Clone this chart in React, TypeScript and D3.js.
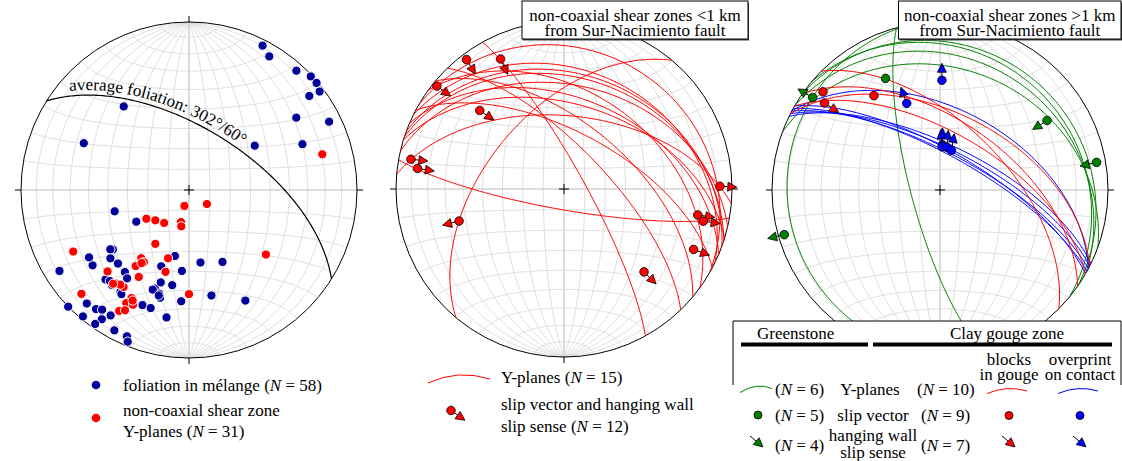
import * as d3 from 'd3'

const FONT = 'Liberation Serif'
const FS = 17
const rad = Math.PI / 180
const R = 168
const GRID = '#dadada'
const NAVY = '#000099'
const RED = '#ff0000'
const GREEN = '#008000'
const BLUE = '#0000ff'

// left net: poles to planes, [trend, plunge]
const foliationPoles: [number, number][] = [
  [27, 4], [31, 8], [42, 5], [47, 1], [50, 1], [53, 3], [52, 10], [56, 24], [64, 8], [68, 28],
  [56, 51], [322, 37], [294, 32], [254, 52], [239, 60], [232, 42], [229, 38], [224, 39], [232, 28],
  [238, 10], [218, 38], [215, 36], [223, 28], [219, 28], [214, 28], [226, 0], [222, 10], [218, 11],
  [216, 13], [220, 2], [214, 8], [212, 13], [215, 3], [208, 6], [203, 6], [202, 3], [202, 27],
  [198, 27], [190, 24], [199, 38], [196, 36], [195, 34], [197, 42], [190, 42], [200, 50], [192, 57],
  [185, 50], [184, 34], [171, 54], [155, 51], [168, 36], [153, 27], [221, 29], [200, 37], [213, 27],
  [233, 41], [196, 35], [236, 29],
]
const shearZonePoles: [number, number][] = [
  [75, 19], [196, 82], [128, 79], [236, 65], [228, 68], [217, 70], [194, 74], [192, 72], [212, 59],
  [242, 23], [215, 49], [212, 48], [215, 44], [197, 55], [196, 48], [210, 40], [225, 32], [218, 30],
  [214, 31], [226, 12], [208, 28], [209, 24], [206, 25], [210, 18], [208, 20], [180, 38], [130, 40],
  [216, 31], [207, 27], [213, 47], [219, 29],
]
const averageFoliation: [number, number] = [302, 60]

// middle net: Y-planes [strike, dip] (right-hand rule); slip [trend, plunge, sense azimuth]
const yPlanesNear: [number, number][] = [
  [100, 80], [220, 52], [331, 80], [316, 70], [275, 54], [283, 38], [288, 34], [290, 32],
  [296, 30], [300, 18], [306, 42], [293, 45], [310, 58], [298, 62], [287, 48],
]
const slipNear: [number, number, number][] = [
  [323, 4, 148], [334, 15, 155], [309, 3, 126], [313, 32, 124], [281, 8, 96], [278, 13, 99],
  [253, 35, 256], [89, 8, 93], [101, 20, 98], [103, 16, 98], [115, 16, 110], [136, 32, 135],
]

// right net
const greenPlanes: [number, number][] = [[165, 76], [170, 10], [310, 18], [300, 22], [305, 15], [290, 28]]
const redPlanes: [number, number][] = [[315, 58], [305, 56], [300, 62], [297, 52]]
const bluePlanes: [number, number][] = [[298, 50], [297, 70], [298, 72], [299, 73], [300, 71], [296, 68]]
const greenSlip: [number, number, number | null][] = [
  [334, 27, null], [306, 7, 300], [254, 4, 257], [57, 25, 238], [80, 6, 257],
]
const redSlip: [number, number, number | null][] = [[310, 10, null], [307, 15, 124], [325, 32, null]]
const blueSlip: [number, number, number | null][] = [
  [339, 44, 340], [1, 35, 0], [3, 68, 0], [3, 69, 355], [9, 69, 5], [16, 70, 10],
]

const titles = [
  ['non-coaxial shear zones <1 km', 'from Sur-Nacimiento fault'],
  ['non-coaxial shear zones >1 km', 'from Sur-Nacimiento fault'],
]
const countsGreen = [6, 5, 4]
const countsClay = [10, 9, 7]

type Pt = [number, number]

function toLonLat(e: number, n: number, d: number): Pt {
  const lat = Math.asin(Math.max(-1, Math.min(1, n))) / rad
  const lon = Math.atan2(e, d) / rad
  return [lon, lat]
}
function lineLL(trend: number, plunge: number): Pt {
  const cp = Math.cos(plunge * rad)
  return toLonLat(cp * Math.sin(trend * rad), cp * Math.cos(trend * rad), Math.sin(plunge * rad))
}
function planeLL(strike: number, dip: number): Pt[] {
  const s = strike * rad
  const dd = (strike + 90) * rad
  const dp = dip * rad
  const S = [Math.sin(s), Math.cos(s), 0]
  const D = [Math.cos(dp) * Math.sin(dd), Math.cos(dp) * Math.cos(dd), Math.sin(dp)]
  return d3.range(0, 180.01, 1).map((a) => {
    const c = Math.cos(a * rad)
    const si = Math.sin(a * rad)
    return toLonLat(c * S[0] + si * D[0], c * S[1] + si * D[1], c * S[2] + si * D[2])
  })
}

const lineGen = d3.line<Pt>()
const makeProj = (cx: number, cy: number) =>
  d3.geoAzimuthalEqualArea().rotate([0, 0]).scale(R / Math.SQRT2).translate([cx, cy])
type Proj = ReturnType<typeof makeProj>
const pathOf = (proj: Proj, pts: Pt[]) => lineGen(pts.map((p) => proj(p) as Pt)) ?? ''

function NetFrame({ proj, cx, cy }: { proj: Proj; cx: number; cy: number }) {
  const steps = d3.range(-80, 81, 10)
  const fine = d3.range(-90, 90.01, 1)
  return (
    <g>
      <circle cx={cx} cy={cy} r={R} fill="#fff" />
      {steps.map((m) => (
        <path key={'m' + m} d={pathOf(proj, fine.map((l) => [m, l] as Pt))} fill="none"
          stroke={m === 0 ? '#d2d2d2' : GRID} strokeWidth={m === 0 ? 1.6 : 0.9} />
      ))}
      {steps.map((l) => (
        <path key={'p' + l} d={pathOf(proj, fine.map((m) => [m, l] as Pt))} fill="none"
          stroke={l === 0 ? '#d2d2d2' : GRID} strokeWidth={l === 0 ? 1.6 : 0.9} />
      ))}
      <circle cx={cx} cy={cy} r={R} fill="none" stroke="#000" strokeWidth={1} />
      <line x1={cx} x2={cx} y1={cy - R} y2={cy - R - 6} stroke="#000" />
      <line x1={cx} x2={cx} y1={cy + R} y2={cy + R + 6} stroke="#000" />
      <line x1={cx - R} x2={cx - R - 6} y1={cy} y2={cy} stroke="#000" />
      <line x1={cx + R} x2={cx + R + 6} y1={cy} y2={cy} stroke="#000" />
      <line x1={cx - 5} x2={cx + 5} y1={cy} y2={cy} stroke="#000" />
      <line x1={cx} x2={cx} y1={cy - 5} y2={cy + 5} stroke="#000" />
    </g>
  )
}

function Arrow({ x, y, az, color }: { x: number; y: number; az: number; color: string }) {
  const dx = Math.sin(az * rad)
  const dy = -Math.cos(az * rad)
  const bx = x + dx * 8
  const by = y + dy * 8
  const tx = x + dx * 17
  const ty = y + dy * 17
  const px = -dy * 4.5
  const py = dx * 4.5
  return (
    <g>
      <line x1={x} y1={y} x2={bx} y2={by} stroke="#000" strokeWidth={1} />
      <polygon points={`${tx},${ty} ${bx + px},${by + py} ${bx - px},${by - py}`} fill={color}
        stroke="#000" strokeWidth={0.8} strokeLinejoin="round" />
    </g>
  )
}

function Slip({ proj, d, color }: { proj: Proj; d: [number, number, number | null]; color: string }) {
  const [x, y] = proj(lineLL(d[0], d[1])) as Pt
  return (
    <g>
      {d[2] !== null && <Arrow x={x} y={y} az={d[2]} color={color} />}
      <circle cx={x} cy={y} r={4.3} fill={color} stroke="#000" strokeWidth={0.8} />
    </g>
  )
}

function TitleBox({ x, w, lines }: { x: number; w: number; lines: string[] }) {
  return (
    <g>
      <rect x={x + 1} y={2.5} width={w} height={38} fill="#444" />
      <rect x={x} y={1} width={w} height={38} fill="#fff" stroke="#000" strokeWidth={1} />
      {lines.map((t, i) => (
        <text key={i} x={x + w / 2} y={20.5 + i * 15} textAnchor="middle" fontSize={FS}>
          {t}
        </text>
      ))}
    </g>
  )
}

function NText({ x, y, pre, n }: { x: number; y: number; pre: string; n: number }) {
  return (
    <text x={x} y={y} fontSize={FS}>
      {pre}(<tspan fontStyle="italic">N</tspan> = {n})
    </text>
  )
}

export default function App() {
  const p1 = makeProj(189, 190)
  const p2 = makeProj(564, 189)
  const p3 = makeProj(940, 190)

  // label path offset above the average foliation great circle
  const avgPts = planeLL(averageFoliation[0], averageFoliation[1]).map((p) => p1(p) as Pt)
  const offPts: Pt[] = avgPts.map((p, i) => {
    const a = avgPts[Math.max(0, i - 1)]
    const b = avgPts[Math.min(avgPts.length - 1, i + 1)]
    const tx = b[0] - a[0]
    const ty = b[1] - a[1]
    const l = Math.hypot(tx, ty) || 1
    return [p[0] + (ty / l) * 5, p[1] - (tx / l) * 5]
  })

  return (
    <svg width={1122} height={461} viewBox="0 0 1122 461"
      style={{ position: 'absolute', left: 0, top: 0, background: '#fff', fontFamily: FONT }}>
      <defs>
        <path id="avgfol" d={lineGen(offPts) ?? ''} />
      </defs>

      {/* left net */}
      <NetFrame proj={p1} cx={189} cy={190} />
      <path d={pathOf(p1, planeLL(averageFoliation[0], averageFoliation[1]))} fill="none" stroke="#000" strokeWidth={1.2} />
      <text fontSize={FS}>
        <textPath href="#avgfol" startOffset={25}>average foliation: 302°/60°</textPath>
      </text>
      {foliationPoles.map((d, i) => {
        const [x, y] = p1(lineLL(d[0], d[1])) as Pt
        return <circle key={'f' + i} cx={x} cy={y} r={4.6} fill={NAVY} stroke="#fff" strokeWidth={1} />
      })}
      {shearZonePoles.map((d, i) => {
        const [x, y] = p1(lineLL(d[0], d[1])) as Pt
        return <circle key={'s' + i} cx={x} cy={y} r={4.6} fill={RED} stroke="#fff" strokeWidth={1} />
      })}

      {/* middle net */}
      <NetFrame proj={p2} cx={564} cy={189} />
      {yPlanesNear.map((pl, i) => (
        <path key={'y' + i} d={pathOf(p2, planeLL(pl[0], pl[1]))} fill="none" stroke={RED} strokeWidth={1} />
      ))}
      {slipNear.map((d, i) => <Slip key={'sn' + i} proj={p2} d={d} color={RED} />)}
      <TitleBox x={522} w={226} lines={titles[0]} />

      {/* right net */}
      <NetFrame proj={p3} cx={940} cy={190} />
      {greenPlanes.map((pl, i) => (
        <path key={'g' + i} d={pathOf(p3, planeLL(pl[0], pl[1]))} fill="none" stroke={GREEN} strokeWidth={1} />
      ))}
      {bluePlanes.map((pl, i) => (
        <path key={'b' + i} d={pathOf(p3, planeLL(pl[0], pl[1]))} fill="none" stroke={BLUE} strokeWidth={1} />
      ))}
      {redPlanes.map((pl, i) => (
        <path key={'r' + i} d={pathOf(p3, planeLL(pl[0], pl[1]))} fill="none" stroke={RED} strokeWidth={1} />
      ))}
      {greenSlip.map((d, i) => <Slip key={'gs' + i} proj={p3} d={d} color={GREEN} />)}
      {redSlip.map((d, i) => <Slip key={'rs' + i} proj={p3} d={d} color={RED} />)}
      {blueSlip.map((d, i) => <Slip key={'bs' + i} proj={p3} d={d} color={BLUE} />)}
      <TitleBox x={898.5} w={222.5} lines={titles[1]} />

      {/* left legend */}
      <circle cx={96} cy={385} r={4.3} fill={NAVY} />
      <NText x={123} y={390.5} pre="foliation in mélange " n={foliationPoles.length} />
      <circle cx={96} cy={418} r={4.3} fill={RED} />
      <text x={123} y={415.5} fontSize={FS}>non-coaxial shear zone</text>
      <NText x={123} y={437} pre="Y-planes " n={shearZonePoles.length} />

      {/* middle legend */}
      <path d="M428,383 Q458,369 490,379" fill="none" stroke={RED} strokeWidth={1} />
      <NText x={501} y={382.5} pre="Y-planes " n={yPlanesNear.length} />
      <Arrow x={451} y={410.5} az={125} color={RED} />
      <circle cx={451} cy={410.5} r={4.3} fill={RED} stroke="#000" strokeWidth={0.8} />
      <text x={501} y={409.5} fontSize={FS}>slip vector and hanging wall</text>
      <NText x={501} y={431.5} pre="slip sense " n={slipNear.length} />

      {/* right legend */}
      <rect x={733} y={321} width={389} height={140} fill="#fff" />
      <path d="M733,385 V321 H1121 V385" fill="none" stroke="#000" strokeWidth={1} />
      <text x={757} y={339} fontSize={FS}>Greenstone</text>
      <text x={1007} y={339} fontSize={FS} textAnchor="middle">Clay gouge zone</text>
      <rect x={741} y={342.5} width={127} height={4} fill="#000" />
      <rect x={873} y={342.5} width={239} height={4} fill="#000" />
      <text x={1009} y={365} fontSize={FS} textAnchor="middle">blocks</text>
      <text x={1009} y={380} fontSize={FS} textAnchor="middle">in gouge</text>
      <text x={1080} y={365} fontSize={FS} textAnchor="middle">overprint</text>
      <text x={1080} y={380} fontSize={FS} textAnchor="middle">on contact</text>

      <path d="M740,392.5 Q757,382 772,388.5" fill="none" stroke={GREEN} strokeWidth={1} />
      <NText x={775} y={394.5} pre="" n={countsGreen[0]} />
      <text x={870} y={394.5} fontSize={FS} textAnchor="middle">Y-planes</text>
      <NText x={917} y={394.5} pre="" n={countsClay[0]} />
      <path d="M987,393.5 Q1007,385 1027,391" fill="none" stroke={RED} strokeWidth={1} />
      <path d="M1058,393.5 Q1078,385 1098,391" fill="none" stroke={BLUE} strokeWidth={1} />

      <circle cx={758} cy={415} r={4} fill={GREEN} stroke="#000" strokeWidth={0.8} />
      <NText x={775} y={420.5} pre="" n={countsGreen[1]} />
      <text x={873} y={420.5} fontSize={FS} textAnchor="middle">slip vector</text>
      <NText x={921} y={420.5} pre="" n={countsClay[1]} />
      <circle cx={1009} cy={415.5} r={4} fill={RED} stroke="#000" strokeWidth={0.8} />
      <circle cx={1080} cy={415.5} r={4} fill={BLUE} stroke="#000" strokeWidth={0.8} />

      <Arrow x={750} y={436} az={130} color={GREEN} />
      <NText x={775} y={450.5} pre="" n={countsGreen[2]} />
      <text x={873} y={440.5} fontSize={FS} textAnchor="middle">hanging wall</text>
      <text x={873} y={457.5} fontSize={FS} textAnchor="middle">slip sense</text>
      <NText x={921} y={450.5} pre="" n={countsClay[2]} />
      <Arrow x={1002} y={436} az={130} color={RED} />
      <Arrow x={1073} y={436} az={130} color={BLUE} />
    </svg>
  )
}
